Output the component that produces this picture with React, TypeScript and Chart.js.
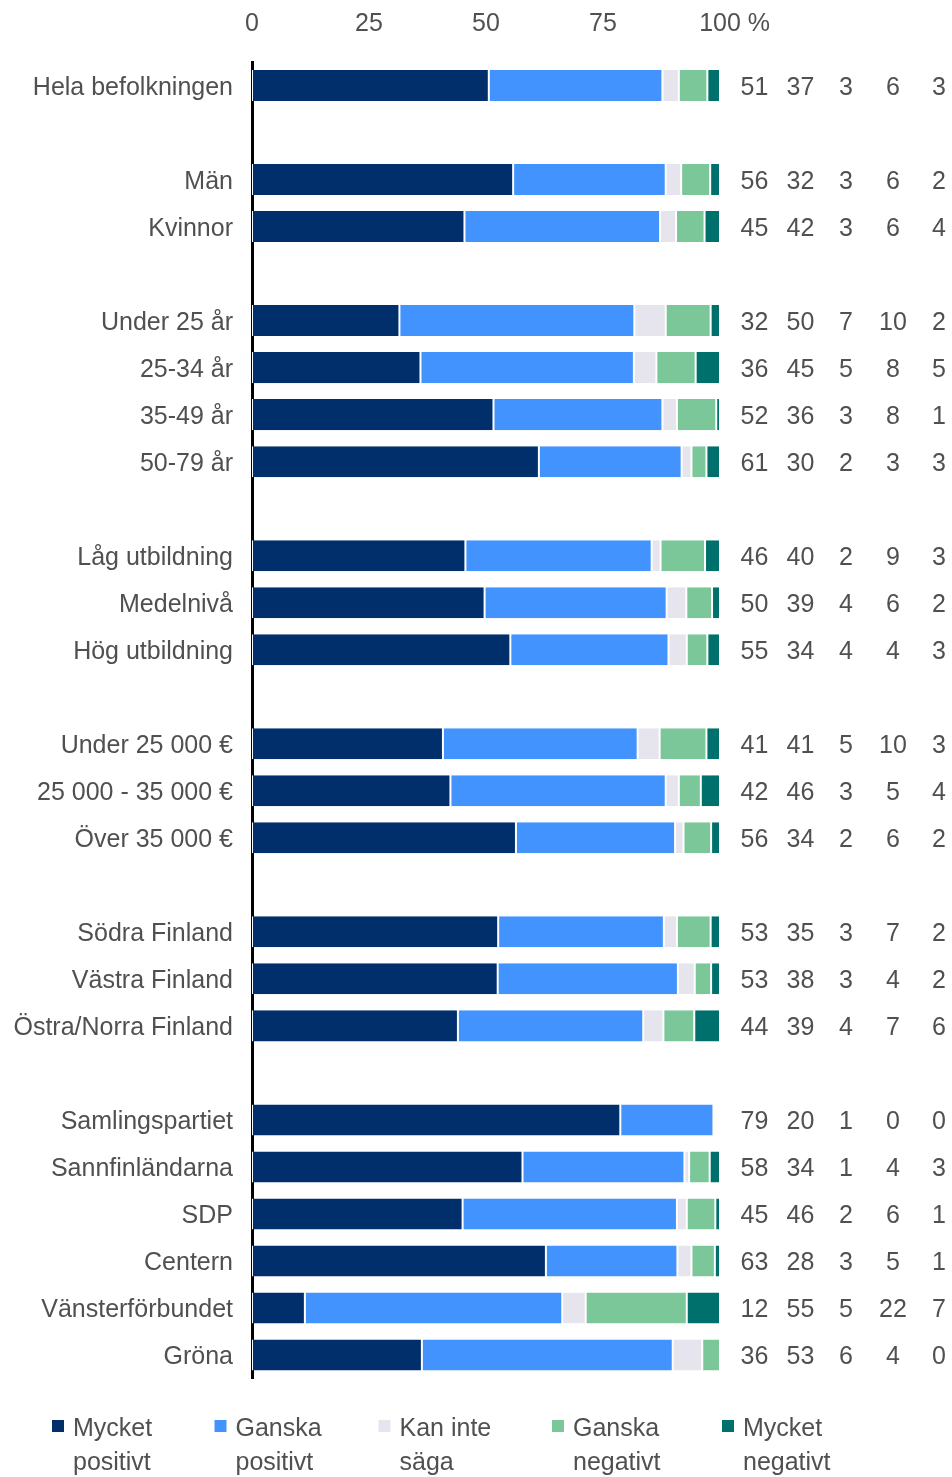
import React, { useEffect, useRef } from "react";
import { Chart, registerables } from "chart.js";

Chart.register(...registerables);

// ---------- data ----------
const categories = [
  "Hela befolkningen", "",
  "Män", "Kvinnor", "",
  "Under 25 år", "25-34 år", "35-49 år", "50-79 år", "",
  "Låg utbildning", "Medelnivå", "Hög utbildning", "",
  "Under 25 000 €", "25 000 - 35 000 €", "Över 35 000 €", "",
  "Södra Finland", "Västra Finland", "Östra/Norra Finland", "",
  "Samlingspartiet", "Sannfinländarna", "SDP", "Centern", "Vänsterförbundet", "Gröna",
];

const seriesNames = ["Mycket positivt", "Ganska positivt", "Kan inte säga", "Ganska negativt", "Mycket negativt"];
const legendLines = [["Mycket", "positivt"], ["Ganska", "positivt"], ["Kan inte", "säga"], ["Ganska", "negativt"], ["Mycket", "negativt"]];

// bar lengths (percent)
const muchPositive = [50.6, null, 55.8, 45.4, null, 31.5, 36.0, 51.6, 61.3, null, 45.6, 49.7, 55.2, null, 40.8, 42.4, 56.4, null, 52.6, 52.5, 44.0, null, 78.7, 57.8, 45.0, 62.8, 11.3, 36.3];
const ratherPositive = [37.1, null, 32.6, 41.8, null, 50.2, 45.6, 36.1, 30.5, null, 39.8, 38.9, 33.8, null, 41.6, 46.0, 34.0, null, 35.4, 38.5, 39.6, null, 19.9, 34.6, 45.8, 28.1, 55.0, 53.6];
const cannotSay = [3.5, null, 3.3, 3.4, null, 6.7, 4.8, 3.1, 2.1, null, 1.9, 4.2, 3.9, null, 4.7, 2.8, 1.8, null, 2.8, 3.6, 4.3, null, 0, 1.0, 2.1, 3.0, 5.0, 6.3];
const ratherNegative = [6.1, null, 6.2, 6.1, null, 9.6, 8.4, 8.4, 3.2, null, 9.5, 5.5, 4.4, null, 10.0, 4.7, 5.9, null, 7.2, 3.5, 6.6, null, 0, 4.4, 6.1, 5.0, 21.6, 3.8];
const muchNegative = [2.7, null, 2.1, 3.3, null, 2.0, 5.2, 0.8, 2.9, null, 3.2, 1.7, 2.7, null, 2.9, 4.1, 1.9, null, 2.0, 1.9, 5.5, null, 0, 2.2, 1.0, 1.1, 7.1, 0];

// printed values in the right-hand table
const lblMuchPositive = [51, null, 56, 45, null, 32, 36, 52, 61, null, 46, 50, 55, null, 41, 42, 56, null, 53, 53, 44, null, 79, 58, 45, 63, 12, 36];
const lblRatherPositive = [37, null, 32, 42, null, 50, 45, 36, 30, null, 40, 39, 34, null, 41, 46, 34, null, 35, 38, 39, null, 20, 34, 46, 28, 55, 53];
const lblCannotSay = [3, null, 3, 3, null, 7, 5, 3, 2, null, 2, 4, 4, null, 5, 3, 2, null, 3, 3, 4, null, 1, 1, 2, 3, 5, 6];
const lblRatherNegative = [6, null, 6, 6, null, 10, 8, 8, 3, null, 9, 6, 4, null, 10, 5, 6, null, 7, 4, 7, null, 0, 4, 6, 5, 22, 4];
const lblMuchNegative = [3, null, 2, 4, null, 2, 5, 1, 3, null, 3, 2, 3, null, 3, 4, 2, null, 2, 2, 6, null, 0, 3, 1, 1, 7, 0];

const xTickValues = [0, 25, 50, 75, 100];
const xTickLabels = ["0", "25", "50", "75", "100"];
const xUnit = "%";

// ---------- style ----------
const FONT = "'Liberation Sans', Arial, sans-serif";
const TEXT = "#505050";
const COLORS = ["#002F6C", "#4393FF", "#E6E4EC", "#7CC799", "#00706C"];
const FS = 25;
const TXT_DY = 2.5;
const X_PAD = 23;

export default function App() {
  const ref = useRef<HTMLCanvasElement>(null);

  useEffect(() => {
    const canvas = ref.current;
    if (!canvas) return;

    const barSeries = [muchPositive, ratherPositive, cannotSay, ratherNegative, muchNegative];
    const labelSeries = [lblMuchPositive, lblRatherPositive, lblCannotSay, lblRatherNegative, lblMuchNegative];
    const colX = [754.5, 800.5, 846, 893, 939];
    const legendX = [52, 214.5, 378.5, 552, 722];

    const extras = {
      id: "extras",
      afterDraw(chart: any) {
        const ctx = chart.ctx;
        const ys = chart.scales.y;
        const xs = chart.scales.x;
        ctx.save();
        ctx.font = `${FS}px ${FONT}`;
        ctx.fillStyle = TEXT;
        // value table
        ctx.textAlign = "center";
        ctx.textBaseline = "middle";
        labelSeries.forEach((col, c) => {
          col.forEach((v, i) => {
            if (v === null) return;
            ctx.fillText(String(v), colX[c], ys.getPixelForValue(i) + TXT_DY);
          });
        });
        // unit after last tick
        const last = xTickLabels[xTickLabels.length - 1];
        const w = ctx.measureText(last).width;
        ctx.textAlign = "left";
        ctx.fillText(" " + xUnit, xs.getPixelForValue(xTickValues[xTickValues.length - 1]) + w / 2, xs.bottom - X_PAD - FS * 0.6);
        // legend
        ctx.textBaseline = "alphabetic";
        legendLines.forEach((lines, k) => {
          ctx.fillStyle = COLORS[k];
          ctx.fillRect(legendX[k], 1420, 12, 12);
          ctx.fillStyle = TEXT;
          lines.forEach((t, j) => ctx.fillText(t, legendX[k] + 21, 1436 + j * 34));
        });
        ctx.restore();
      },
    };

    const chart = new Chart(canvas, {
      type: "bar",
      data: {
        labels: categories,
        datasets: barSeries.map((d, k) => ({
          label: seriesNames[k],
          data: d as any,
          backgroundColor: COLORS[k],
          borderColor: "#ffffff",
          borderWidth: { left: 1, right: 1, top: 0, bottom: 0 },
          borderSkipped: false,
          barPercentage: 0.66,
          categoryPercentage: 1,
        })),
      },
      options: {
        indexAxis: "y",
        animation: false,
        responsive: false,
        devicePixelRatio: 1,
        layout: { padding: { top: 0, right: 232, bottom: 98.5, left: 0 } },
        plugins: { legend: { display: false }, tooltip: { enabled: false } },
        scales: {
          x: {
            position: "top",
            stacked: true,
            min: 0,
            max: 100,
            grid: { display: false, drawTicks: false },
            border: { display: false },
            afterBuildTicks: (s: any) => {
              s.ticks = xTickValues.map((v) => ({ value: v }));
            },
            afterFit: (s: any) => {
              s.height = 62;
            },
            ticks: {
              padding: X_PAD,
              color: TEXT,
              font: { size: FS, family: FONT },
              maxRotation: 0,
              autoSkip: false,
              callback: (_v: any, i: number) => xTickLabels[i],
            },
          },
          y: {
            stacked: true,
            grid: { display: false, drawTicks: false },
            border: { display: true, color: "#000000", width: 3 },
            afterFit: (s: any) => {
              s.width = 252;
            },
            ticks: {
              padding: 19,
              labelOffset: TXT_DY,
              color: TEXT,
              autoSkip: false,
              font: { size: FS, family: FONT },
            },
          },
        },
      },
      plugins: [extras],
    });

    return () => chart.destroy();
  }, []);

  return (
    <div style={{ position: "absolute", left: 0, top: 0, width: 952, height: 1477, background: "#ffffff" }}>
      <canvas ref={ref} width={952} height={1477} style={{ display: "block" }} />
    </div>
  );
}
